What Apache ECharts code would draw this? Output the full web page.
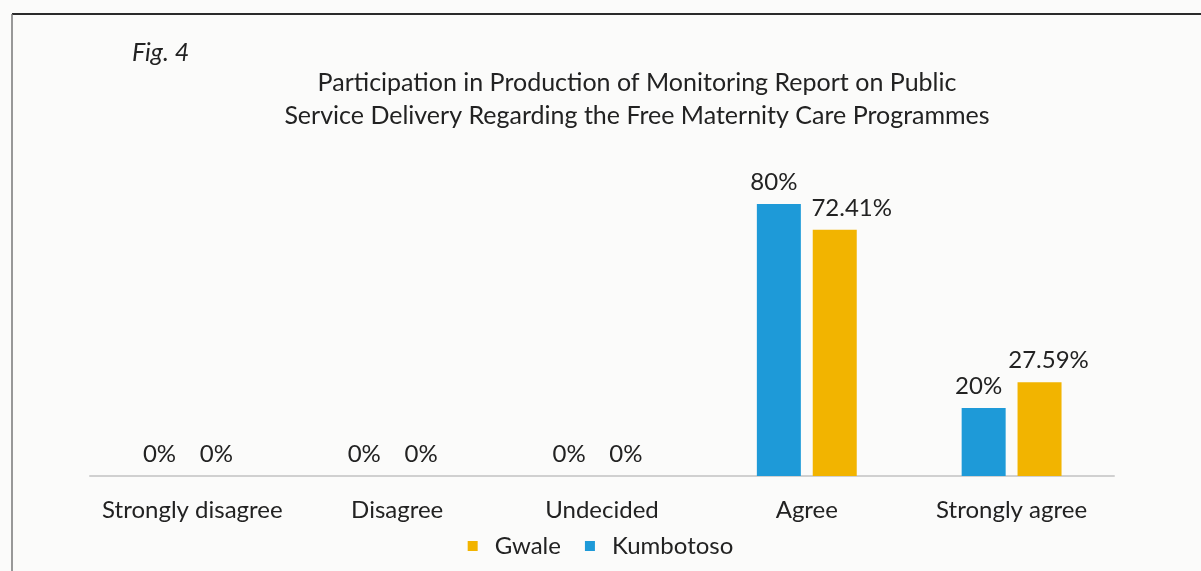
<!DOCTYPE html>
<html>
<head>
<meta charset="utf-8">
<style>
  html, body { margin: 0; padding: 0; background: #fbfbfa; }
  #chart { width: 1201px; height: 571px; }
</style>
<script src="https://cdn.jsdelivr.net/npm/echarts@6/dist/echarts.min.js"></script>
</head>
<body>
<div id="chart"></div>
<script>
// Survey responses (% of respondents) by local government area
const categories = ['Strongly disagree', 'Disagree', 'Undecided', 'Agree', 'Strongly agree'];
const kumbotoso = [0, 0, 0, 80, 20];
const gwale = [0, 0, 0, 72.41, 27.59];
const seriesNames = ['Kumbotoso', 'Gwale'];
const legendOrder = ['Gwale', 'Kumbotoso'];

const FONT = 'Lato, "Open Sans", sans-serif';
const TEXT = '#222';
const FS = 24;

const chart = echarts.init(document.getElementById('chart'), null, { renderer: 'canvas' });

const labelStyle = {
  show: true,
  position: 'top',
  distance: 10,
  color: TEXT,
  fontFamily: FONT,
  fontSize: FS,
  formatter: p => p.value + '%'
};

// Non-zero Gwale labels sit a little to the right of their bars
const gwaleLabelShift = [-4, -4, -4, 17, 9];
const gwaleData = gwale.map((v, i) => ({ value: v, label: { offset: [gwaleLabelShift[i], 0] } }));

chart.setOption({
  backgroundColor: '#fbfbfa',
  animation: false,
  title: {
    text: 'Participation in Production of Monitoring Report on Public\nService Delivery Regarding the Free Maternity Care Programmes',
    left: 632,
    textAlign: 'center',
    top: 61,
    textStyle: { fontFamily: FONT, fontWeight: 'normal', fontSize: 25, color: TEXT, lineHeight: 33 }
  },
  graphic: [
    { type: 'line', shape: { x1: 12, y1: 14, x2: 1201, y2: 14 }, style: { stroke: '#2a2a2a', lineWidth: 2 } },
    { type: 'line', shape: { x1: 12, y1: 14, x2: 12, y2: 571 }, style: { stroke: '#777', lineWidth: 1.5 } },
    { type: 'text', left: 132, top: 40, style: { text: 'Fig. 4', font: 'italic 25px ' + FONT, fill: TEXT } }
  ],
  legend: {
    data: legendOrder,
    left: 'center',
    top: 529,
    itemWidth: 10,
    itemHeight: 10,
    itemGap: 24,
    icon: 'rect',
    textStyle: { fontFamily: FONT, fontSize: FS, color: TEXT, padding: [0, 0, 0, 12] }
  },
  grid: { left: 90, right: 87, top: 136, bottom: 95, containLabel: false },
  xAxis: {
    type: 'category',
    data: categories,
    axisLine: { lineStyle: { color: '#d0d0d0', width: 2 } },
    axisTick: { show: false },
    axisLabel: { interval: 0, fontFamily: FONT, fontSize: FS, color: TEXT, margin: 22 }
  },
  yAxis: {
    type: 'value',
    min: 0,
    max: 100,
    show: false,
    splitLine: { show: false }
  },
  series: [
    {
      name: seriesNames[0],
      type: 'bar',
      data: kumbotoso,
      barWidth: 44,
      barGap: '27%',
      itemStyle: { color: '#1e9ad8' },
      label: Object.assign({}, labelStyle, { offset: [-5, 0] })
    },
    {
      name: seriesNames[1],
      type: 'bar',
      data: gwaleData,
      barWidth: 44,
      itemStyle: { color: '#f2b400' },
      label: labelStyle
    }
  ]
});
</script>
</body>
</html>
